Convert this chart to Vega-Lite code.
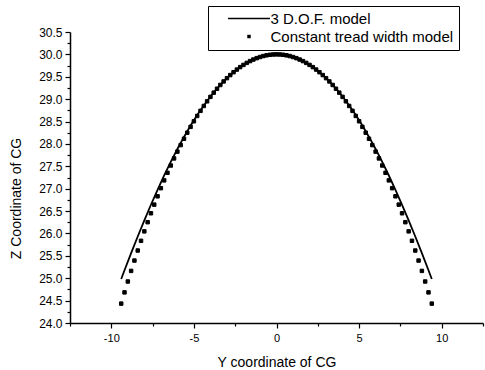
{
  "$schema": "https://vega.github.io/schema/vega-lite/v6.json",
  "width": 413,
  "height": 291,
  "autosize": {"type": "none"},
  "padding": {"left": 70, "top": 32, "right": 2, "bottom": 47},
  "background": "white",
  "config": {
    "view": {"stroke": null},
    "font": "Liberation Sans",
    "axis": {
      "grid": false,
      "domainColor": "black",
      "domainWidth": 1.5,
      "tickColor": "black",
      "tickWidth": 1.2,
      "labelColor": "black",
      "titleColor": "black",
      "titleFontWeight": "normal",
      "labelFont": "Liberation Sans",
      "titleFont": "Liberation Sans",
      "labelOverlap": false
    }
  },
  "datasets": {
    "dof": [
      {"y": -9.4, "z": 24.983}, {"y": -9.2, "z": 25.178}, {"y": -8.8, "z": 25.560}, {"y": -8.4, "z": 25.932},
      {"y": -8.0, "z": 26.293}, {"y": -7.6, "z": 26.641}, {"y": -7.2, "z": 26.975}, {"y": -6.8, "z": 27.295},
      {"y": -6.4, "z": 27.598}, {"y": -6.0, "z": 27.886}, {"y": -5.6, "z": 28.156}, {"y": -5.2, "z": 28.410},
      {"y": -4.8, "z": 28.644}, {"y": -4.4, "z": 28.860}, {"y": -4.0, "z": 29.059}, {"y": -3.6, "z": 29.235},
      {"y": -3.2, "z": 29.397}, {"y": -2.8, "z": 29.538}, {"y": -2.4, "z": 29.661}, {"y": -2.0, "z": 29.765},
      {"y": -1.6, "z": 29.850}, {"y": -1.2, "z": 29.916}, {"y": -0.8, "z": 29.963}, {"y": -0.4, "z": 29.991},
      {"y": 0, "z": 30.0},
      {"y": 0.4, "z": 29.991}, {"y": 0.8, "z": 29.963}, {"y": 1.2, "z": 29.916}, {"y": 1.6, "z": 29.850},
      {"y": 2.0, "z": 29.765}, {"y": 2.4, "z": 29.661}, {"y": 2.8, "z": 29.538}, {"y": 3.2, "z": 29.397},
      {"y": 3.6, "z": 29.235}, {"y": 4.0, "z": 29.059}, {"y": 4.4, "z": 28.860}, {"y": 4.8, "z": 28.644},
      {"y": 5.2, "z": 28.410}, {"y": 5.6, "z": 28.156}, {"y": 6.0, "z": 27.886}, {"y": 6.4, "z": 27.598},
      {"y": 6.8, "z": 27.295}, {"y": 7.2, "z": 26.975}, {"y": 7.6, "z": 26.641}, {"y": 8.0, "z": 26.293},
      {"y": 8.4, "z": 25.932}, {"y": 8.8, "z": 25.560}, {"y": 9.2, "z": 25.178}, {"y": 9.4, "z": 24.983}
    ],
    "ctw": [
      {"s": "Constant tread width model", "y": -9.4, "z": 24.433}, {"s": "Constant tread width model", "y": -9.2, "z": 24.684},
      {"s": "Constant tread width model", "y": -9.0, "z": 24.927}, {"s": "Constant tread width model", "y": -8.8, "z": 25.164},
      {"s": "Constant tread width model", "y": -8.6, "z": 25.395}, {"s": "Constant tread width model", "y": -8.4, "z": 25.619},
      {"s": "Constant tread width model", "y": -8.2, "z": 25.836}, {"s": "Constant tread width model", "y": -8.0, "z": 26.047},
      {"s": "Constant tread width model", "y": -7.8, "z": 26.252}, {"s": "Constant tread width model", "y": -7.6, "z": 26.451},
      {"s": "Constant tread width model", "y": -7.4, "z": 26.644}, {"s": "Constant tread width model", "y": -7.2, "z": 26.830},
      {"s": "Constant tread width model", "y": -7.0, "z": 27.011}, {"s": "Constant tread width model", "y": -6.8, "z": 27.186},
      {"s": "Constant tread width model", "y": -6.6, "z": 27.355}, {"s": "Constant tread width model", "y": -6.4, "z": 27.518},
      {"s": "Constant tread width model", "y": -6.2, "z": 27.676}, {"s": "Constant tread width model", "y": -6.0, "z": 27.828},
      {"s": "Constant tread width model", "y": -5.8, "z": 27.974}, {"s": "Constant tread width model", "y": -5.6, "z": 28.115},
      {"s": "Constant tread width model", "y": -5.4, "z": 28.251}, {"s": "Constant tread width model", "y": -5.2, "z": 28.381},
      {"s": "Constant tread width model", "y": -5.0, "z": 28.506}, {"s": "Constant tread width model", "y": -4.8, "z": 28.625},
      {"s": "Constant tread width model", "y": -4.6, "z": 28.739}, {"s": "Constant tread width model", "y": -4.4, "z": 28.848},
      {"s": "Constant tread width model", "y": -4.2, "z": 28.952}, {"s": "Constant tread width model", "y": -4.0, "z": 29.051},
      {"s": "Constant tread width model", "y": -3.8, "z": 29.145}, {"s": "Constant tread width model", "y": -3.6, "z": 29.233},
      {"s": "Constant tread width model", "y": -3.4, "z": 29.317}, {"s": "Constant tread width model", "y": -3.2, "z": 29.396},
      {"s": "Constant tread width model", "y": -3.0, "z": 29.469}, {"s": "Constant tread width model", "y": -2.8, "z": 29.538},
      {"s": "Constant tread width model", "y": -2.6, "z": 29.602}, {"s": "Constant tread width model", "y": -2.4, "z": 29.661},
      {"s": "Constant tread width model", "y": -2.2, "z": 29.716}, {"s": "Constant tread width model", "y": -2.0, "z": 29.765},
      {"s": "Constant tread width model", "y": -1.8, "z": 29.810}, {"s": "Constant tread width model", "y": -1.6, "z": 29.850},
      {"s": "Constant tread width model", "y": -1.4, "z": 29.885}, {"s": "Constant tread width model", "y": -1.2, "z": 29.916},
      {"s": "Constant tread width model", "y": -1.0, "z": 29.941}, {"s": "Constant tread width model", "y": -0.8, "z": 29.963},
      {"s": "Constant tread width model", "y": -0.6, "z": 29.979}, {"s": "Constant tread width model", "y": -0.4, "z": 29.991},
      {"s": "Constant tread width model", "y": -0.2, "z": 29.998}, {"s": "Constant tread width model", "y": 0, "z": 30.0},
      {"s": "Constant tread width model", "y": 0.2, "z": 29.998}, {"s": "Constant tread width model", "y": 0.4, "z": 29.991},
      {"s": "Constant tread width model", "y": 0.6, "z": 29.979}, {"s": "Constant tread width model", "y": 0.8, "z": 29.963},
      {"s": "Constant tread width model", "y": 1.0, "z": 29.941}, {"s": "Constant tread width model", "y": 1.2, "z": 29.916},
      {"s": "Constant tread width model", "y": 1.4, "z": 29.885}, {"s": "Constant tread width model", "y": 1.6, "z": 29.850},
      {"s": "Constant tread width model", "y": 1.8, "z": 29.810}, {"s": "Constant tread width model", "y": 2.0, "z": 29.765},
      {"s": "Constant tread width model", "y": 2.2, "z": 29.716}, {"s": "Constant tread width model", "y": 2.4, "z": 29.661},
      {"s": "Constant tread width model", "y": 2.6, "z": 29.602}, {"s": "Constant tread width model", "y": 2.8, "z": 29.538},
      {"s": "Constant tread width model", "y": 3.0, "z": 29.469}, {"s": "Constant tread width model", "y": 3.2, "z": 29.396},
      {"s": "Constant tread width model", "y": 3.4, "z": 29.317}, {"s": "Constant tread width model", "y": 3.6, "z": 29.233},
      {"s": "Constant tread width model", "y": 3.8, "z": 29.145}, {"s": "Constant tread width model", "y": 4.0, "z": 29.051},
      {"s": "Constant tread width model", "y": 4.2, "z": 28.952}, {"s": "Constant tread width model", "y": 4.4, "z": 28.848},
      {"s": "Constant tread width model", "y": 4.6, "z": 28.739}, {"s": "Constant tread width model", "y": 4.8, "z": 28.625},
      {"s": "Constant tread width model", "y": 5.0, "z": 28.506}, {"s": "Constant tread width model", "y": 5.2, "z": 28.381},
      {"s": "Constant tread width model", "y": 5.4, "z": 28.251}, {"s": "Constant tread width model", "y": 5.6, "z": 28.115},
      {"s": "Constant tread width model", "y": 5.8, "z": 27.974}, {"s": "Constant tread width model", "y": 6.0, "z": 27.828},
      {"s": "Constant tread width model", "y": 6.2, "z": 27.676}, {"s": "Constant tread width model", "y": 6.4, "z": 27.518},
      {"s": "Constant tread width model", "y": 6.6, "z": 27.355}, {"s": "Constant tread width model", "y": 6.8, "z": 27.186},
      {"s": "Constant tread width model", "y": 7.0, "z": 27.011}, {"s": "Constant tread width model", "y": 7.2, "z": 26.830},
      {"s": "Constant tread width model", "y": 7.4, "z": 26.644}, {"s": "Constant tread width model", "y": 7.6, "z": 26.451},
      {"s": "Constant tread width model", "y": 7.8, "z": 26.252}, {"s": "Constant tread width model", "y": 8.0, "z": 26.047},
      {"s": "Constant tread width model", "y": 8.2, "z": 25.836}, {"s": "Constant tread width model", "y": 8.4, "z": 25.619},
      {"s": "Constant tread width model", "y": 8.6, "z": 25.395}, {"s": "Constant tread width model", "y": 8.8, "z": 25.164},
      {"s": "Constant tread width model", "y": 9.0, "z": 24.927}, {"s": "Constant tread width model", "y": 9.2, "z": 24.684},
      {"s": "Constant tread width model", "y": 9.4, "z": 24.433}
    ]
  },
  "encoding": {
    "x": {
      "field": "y",
      "type": "quantitative",
      "title": "Y coordinate of CG",
      "scale": {"domain": [-12.5, 12.5], "nice": false, "zero": false},
      "axis": {
        "values": [-12.5, -10, -7.5, -5, -2.5, 0, 2.5, 5, 7.5, 10, 12.5],
        "labelExpr": "datum.value % 5 == 0 ? '' + datum.value : ''",
        "tickSize": {"condition": {"test": "datum.value % 5 != 0", "value": 3}, "value": 5},
        "labelFontSize": 11,
        "labelPadding": 4,
        "titleFontSize": 14,
        "titleY": 43,
        "titleBaseline": "alphabetic"
      }
    },
    "y": {
      "field": "z",
      "type": "quantitative",
      "title": "Z Coordinate of CG",
      "scale": {"domain": [24, 30.5], "nice": false, "zero": false},
      "axis": {
        "values": [24, 24.25, 24.5, 24.75, 25, 25.25, 25.5, 25.75, 26, 26.25, 26.5, 26.75, 27, 27.25, 27.5, 27.75, 28, 28.25, 28.5, 28.75, 29, 29.25, 29.5, 29.75, 30, 30.25, 30.5],
        "labelExpr": "datum.value % 0.5 == 0 ? format(datum.value, '.1f') : ''",
        "tickSize": {"condition": {"test": "datum.value % 0.5 != 0", "value": 3}, "value": 5},
        "labelFontSize": 12,
        "labelPadding": 3,
        "titleFontSize": 14,
        "titleX": -50,
        "titleY": 166,
        "titleAngle": -90,
        "titleAlign": "center",
        "titleBaseline": "alphabetic"
      }
    }
  },
  "layer": [
    {
      "data": {"name": "dof"},
      "mark": {"type": "line", "color": "black", "strokeWidth": 1.8}
    },
    {
      "data": {"name": "ctw"},
      "mark": {"type": "point", "filled": true, "fill": "black", "stroke": "black", "strokeWidth": 1, "opacity": 1, "fillOpacity": 1, "strokeOpacity": 1, "size": 12},
      "encoding": {
        "shape": {
          "field": "s",
          "type": "nominal",
          "scale": {
            "domain": ["3 D.O.F. model", "Constant tread width model"],
            "range": ["M-12.1,-0.45H12.1V0.45H-12.1Z", "square"]
          },
          "legend": {
            "title": null,
            "orient": "none",
            "legendX": 138,
            "legendY": -26,
            "padding": 5,
            "strokeColor": "black",
            "fillColor": "white",
            "labelFontSize": 15,
            "labelFont": "Liberation Sans",
            "labelColor": "black",
            "labelLimit": 400,
            "symbolSize": 12,
            "symbolStrokeColor": "black",
            "symbolFillColor": "black",
            "symbolStrokeWidth": 1,
            "symbolOffset": 28.5,
            "labelOffset": 14,
            "rowPadding": 2
          }
        }
      }
    }
  ]
}
